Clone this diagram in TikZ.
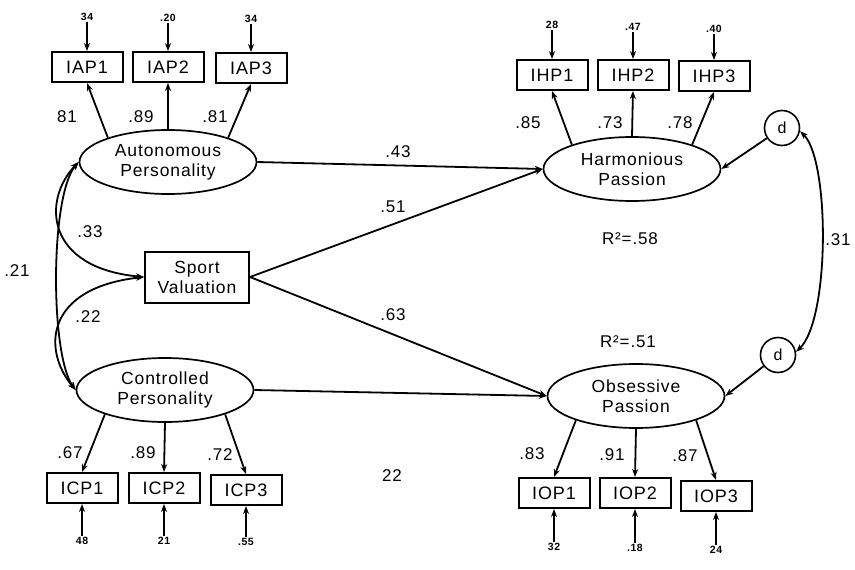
\documentclass[tikz,border=0pt]{standalone}
\usepackage{fontspec}
\setmainfont{Liberation Sans}[LetterSpace=5]
\usepackage{tikz}
\usetikzlibrary{arrows.meta}
\usetikzlibrary{shapes.geometric}

\begin{document}
\begin{tikzpicture}[x=1pt, y=-1pt,
        latent/.style={ellipse, draw, line width=1.7pt, minimum width=177pt, minimum height=64pt, inner sep=0pt, align=center, font=\fontsize{17.5}{20}\selectfont},
        ind/.style={draw, line width=2pt, minimum width=71pt, minimum height=30pt, inner sep=0pt, font=\fontsize{18}{20}\selectfont},
        err/.style={inner sep=1pt, font=\fontsize{10.5}{12}\selectfont\bfseries},
        coef/.style={font=\fontsize{17}{19}\selectfont},
        dist/.style={circle, draw, line width=1.6pt, minimum size=35pt, inner sep=0pt, font=\fontsize{16}{18}\selectfont},
        path/.style={line width=1.8pt, -{Stealth[length=8pt,width=6pt]}},
        cov/.style={line width=1.8pt, {Stealth[length=8pt,width=6pt]}-{Stealth[length=8pt,width=6pt]}}]
    \useasboundingbox (0,0) rectangle (855,570);
    % latent variables
    \node[latent] (ap) at (168,162) {Autonomous\\Personality};
    \node[latent] (cp) at (165,390) {Controlled\\Personality};
    \node[latent] (hp) at (632,169) {Harmonious\\Passion};
    \node[latent] (op) at (636,396) {Obsessive\\Passion};
    \node[ind, minimum width=104pt, minimum height=51pt, align=center, font=\fontsize{17.5}{20}\selectfont] (sv) at (197,277) {Sport\\Valuation};
    \node[dist] (dhp) at (782,128) {d};
    \node[dist] (dop) at (778,355) {d};
    % indicators
    \node[ind] (iap1) at (87,67) {IAP1};
    \node[ind] (iap2) at (168,67) {IAP2};
    \node[ind] (iap3) at (251,68) {IAP3};
    \node[ind] (ihp1) at (552,75) {IHP1};
    \node[ind] (ihp2) at (633,75) {IHP2};
    \node[ind] (ihp3) at (714,76) {IHP3};
    \node[ind] (icp1) at (82,488) {ICP1};
    \node[ind] (icp2) at (164,488) {ICP2};
    \node[ind] (icp3) at (246,490) {ICP3};
    \node[ind] (iop1) at (554,493) {IOP1};
    \node[ind] (iop2) at (635,493) {IOP2};
    \node[ind] (iop3) at (716,496) {IOP3};
    % error terms
    \node[err] (eiap1) at (87,17) {34};
    \node[err] (eiap2) at (168,18) {.20};
    \node[err] (eiap3) at (251,19) {34};
    \node[err] (eihp1) at (552,25) {28};
    \node[err] (eihp2) at (633,27) {.47};
    \node[err] (eihp3) at (714,29) {.40};
    \node[err] (eicp1) at (82,541) {48};
    \node[err] (eicp2) at (164,541) {21};
    \node[err] (eicp3) at (246,542) {.55};
    \node[err] (eiop1) at (554,547) {32};
    \node[err] (eiop2) at (635,548) {.18};
    \node[err] (eiop3) at (716,550) {24};
    \draw[path] (eiap1) -- (iap1);
    \draw[path] (eiap2) -- (iap2);
    \draw[path] (eiap3) -- (iap3);
    \draw[path] (eihp1) -- (ihp1);
    \draw[path] (eihp2) -- (ihp2);
    \draw[path] (eihp3) -- (ihp3);
    \draw[path] (eicp1) -- (icp1);
    \draw[path] (eicp2) -- (icp2);
    \draw[path] (eicp3) -- (icp3);
    \draw[path] (eiop1) -- (iop1);
    \draw[path] (eiop2) -- (iop2);
    \draw[path] (eiop3) -- (iop3);
    % loadings
    \draw[path] (ap.158) -- (iap1.south);
    \draw[path] (ap.90) -- (iap2.south);
    \draw[path] (ap.22) -- (iap3.south);
    \draw[path] (hp.158) -- (ihp1.south);
    \draw[path] (hp.90) -- (ihp2.south);
    \draw[path] (hp.22) -- (ihp3.south);
    \draw[path] (cp.202) -- (icp1.north);
    \draw[path] (cp.270) -- (icp2.north);
    \draw[path] (cp.338) -- (icp3.north);
    \draw[path] (op.202) -- (iop1.north);
    \draw[path] (op.270) -- (iop2.north);
    \draw[path] (op.338) -- (iop3.north);
    \node[coef] (lap1) at (67,117) {81};
    \node[coef] (lap2) at (141,117) {.89};
    \node[coef] (lap3) at (215,117) {.81};
    \node[coef] (lhp1) at (528,123) {.85};
    \node[coef] (lhp2) at (610,123) {.73};
    \node[coef] (lhp3) at (680,123) {.78};
    \node[coef] (lcp1) at (70,453) {.67};
    \node[coef] (lcp2) at (143,453) {.89};
    \node[coef] (lcp3) at (220,455) {.72};
    \node[coef] (lop1) at (532,454) {.83};
    \node[coef] (lop2) at (612,455) {.91};
    \node[coef] (lop3) at (685,456) {.87};
    % structural paths
    \draw[path] (ap.east) -- (hp.west);
    \draw[path] (sv.east) -- (hp.west);
    \draw[path] (sv.east) -- (op.west);
    \draw[path] (cp.east) -- (op.west);
    \draw[path] (dhp) -- (hp.east);
    \draw[path] (dop) -- (op.east);
    \draw[cov] (ap.west) .. controls (50,195) and (50,355) .. (cp.west);
    \draw[cov] (ap.west) .. controls (42,200) and (45,268) .. (sv.west);
    \draw[cov] (cp.west) .. controls (42,350) and (45,288) .. (sv.west);
    \draw[cov] (dhp.-10) .. controls (830,160) and (830,320) .. (dop.10);
    \node[coef] (b43) at (398,152) {.43};
    \node[coef] (b51) at (393,207) {.51};
    \node[coef] (b63) at (393,315) {.63};
    \node[coef] (b22) at (392,476) {22};
    \node[coef] (r21) at (17,271) {.21};
    \node[coef] (r33) at (90,232) {.33};
    \node[coef] (r22) at (88,317) {.22};
    \node[coef] (r31) at (838,240) {.31};
    \node[coef] (rhp) at (630,239) {R²=.58};
    \node[coef] (rop) at (628,342) {R²=.51};
\end{tikzpicture}
\end{document}
